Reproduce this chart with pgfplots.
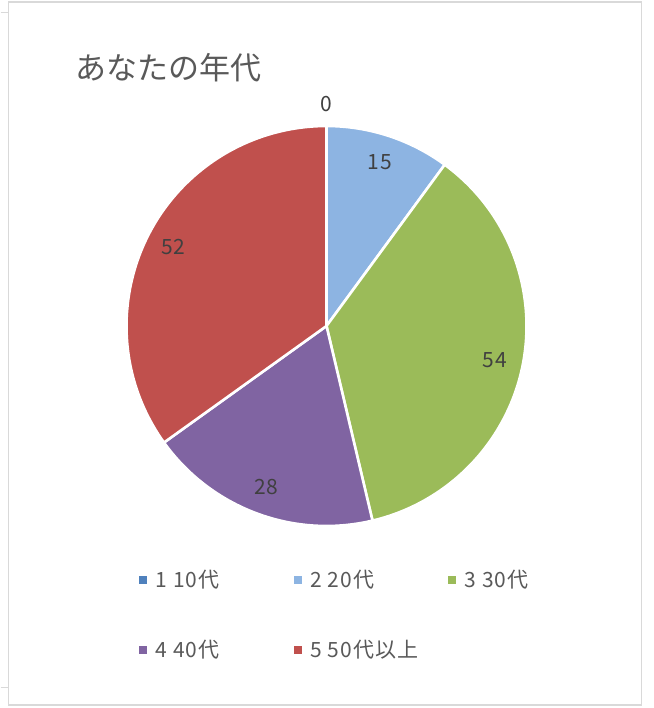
\documentclass[border=0pt]{standalone}
\usepackage{fontspec}
\setmainfont{Noto Sans CJK JP}
\usepackage{pgfplots}
\usepackage{pgfplotstable}
\pgfplotsset{compat=1.18}

\definecolor{c1}{HTML}{4F81BD}
\definecolor{c2}{HTML}{8DB4E2}
\definecolor{c3}{HTML}{9BBB59}
\definecolor{c4}{HTML}{8064A2}
\definecolor{c5}{HTML}{C0504D}
\definecolor{txt}{HTML}{595959}
\definecolor{lbl}{HTML}{404040}
\definecolor{frame}{HTML}{D9D9D9}

\newcommand\lblfont{\fontsize{21bp}{24bp}\selectfont\addfontfeature{LetterSpace=5}}

% name, value, slice colour, legend marker position
\pgfplotstableread[col sep=comma]{
name,value,color,lx,ly
1 10代,0,c1,142.5,128
2 20代,15,c2,297,128
3 30代,54,c3,451.5,128
4 40代,28,c4,142.5,58
5 50代以上,52,c5,297,58
}\agetable

\begin{document}
\begin{tikzpicture}
\begin{axis}[
    x=1bp, y=1bp,
    xmin=0, xmax=653, ymin=0, ymax=708,
    hide axis, clip=false,
  ]
  \path (axis cs:0,0) (axis cs:653,708);
  % frame of the chart area
  \draw[frame, line width=1.3bp] (axis cs:8,3) rectangle (axis cs:641,706);
  \draw[frame, line width=1bp] (axis cs:0,695) -- (axis cs:8,695);
  \draw[frame, line width=1bp] (axis cs:0,20) -- (axis cs:8,20);

  \node[anchor=west, inner sep=0pt, text=txt, font=\fontsize{31bp}{36bp}\selectfont]
    at (axis cs:75,640) {あなたの年代};

  \pgfplotstablegetrowsof{\agetable}
  \pgfmathtruncatemacro\last{\pgfplotsretval-1}
  \def\total{0}
  \pgfplotsforeachungrouped \i in {0,...,\last}{%
    \pgfplotstablegetelem{\i}{value}\of\agetable
    \pgfmathsetmacro\total{\total+\pgfplotsretval}%
  }
  \def\astart{90}
  \pgfplotsforeachungrouped \i in {0,...,\last}{%
    \pgfplotstablegetelem{\i}{value}\of\agetable \let\val\pgfplotsretval
    \pgfplotstablegetelem{\i}{color}\of\agetable \let\col\pgfplotsretval
    \pgfplotstablegetelem{\i}{name}\of\agetable \let\nm\pgfplotsretval
    \pgfplotstablegetelem{\i}{lx}\of\agetable \let\mx\pgfplotsretval
    \pgfplotstablegetelem{\i}{ly}\of\agetable \let\my\pgfplotsretval
    \pgfmathsetmacro\aend{\astart-360*(\val/\total)}
    \pgfmathsetmacro\sx{326+200*cos(\astart)}
    \pgfmathsetmacro\sy{382+200*sin(\astart)}
    \pgfmathsetmacro\amid{(\astart+\aend)/2}
    \pgfmathsetmacro\lr{\val>0 ? 172 : 222}
    \pgfmathsetmacro\lx{326+\lr*cos(\amid)}
    \pgfmathsetmacro\ly{382+\lr*sin(\amid)}
    \pgfmathsetmacro\tx{\mx+12.5}
    \edef\cmd{%
      \noexpand\filldraw[fill=\col, draw=white, line width=2.6bp, line join=round]
        (axis cs:326,382) -- (axis cs:\sx,\sy)
        arc[start angle=\astart, end angle=\aend, radius=200bp] -- cycle;
      \noexpand\node[text=lbl, font=\noexpand\lblfont] at (axis cs:\lx,\ly) {\val};
      \noexpand\node[fill=\col, minimum size=8bp, inner sep=0pt] at (axis cs:\mx,\my) {};
      \noexpand\node[anchor=west, inner sep=0pt, text=txt, font=\noexpand\lblfont]
        at (axis cs:\tx,\my) {\nm};
    }%
    \cmd
    \let\astart\aend
  }
\end{axis}
\end{tikzpicture}
\end{document}
